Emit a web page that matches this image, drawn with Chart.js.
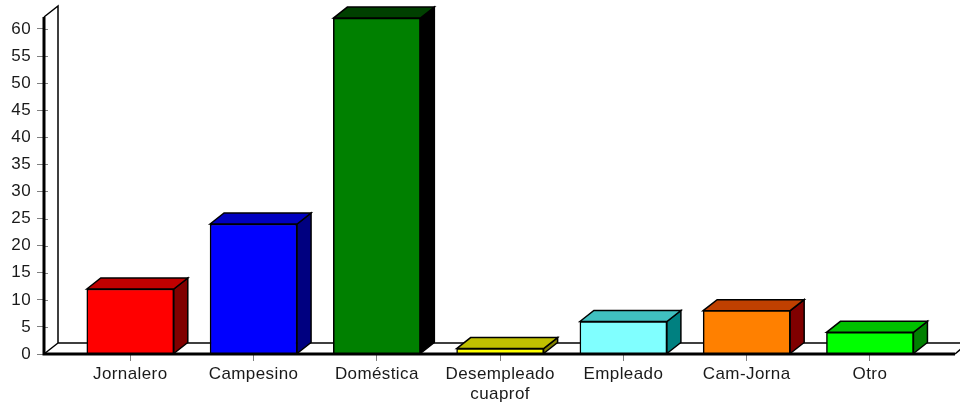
<!DOCTYPE html>
<html>
<head>
<meta charset="utf-8">
<script src="https://cdn.jsdelivr.net/npm/chart.js@4"></script>
<style>
html, body { margin: 0; background: #fff; }
canvas { display: block; }
</style>
</head>
<body>
<canvas id="chart" width="960" height="402"></canvas>
<script>
const categories = ['Jornalero', 'Campesino', 'Doméstica', ['Desempleado', 'cuaprof'], 'Empleado', 'Cam-Jorna', 'Otro'];
const values = [12, 24, 62, 1, 6, 8, 4];
const frontColors = ['#ff0000', '#0000ff', '#008000', '#ffff00', '#80ffff', '#ff8000', '#00ff00'];
const topColors = ['#c00000', '#0000c0', '#004000', '#c0c000', '#40c0c0', '#c04000', '#00c000'];
const sideColors = ['#800000', '#000080', '#000000', '#808000', '#008080', '#800000', '#008000'];

const depthX = 14;
const depthY = -11;

function poly(ctx, pts, fill) {
    ctx.beginPath();
    pts.forEach((p, i) => i ? ctx.lineTo(p[0], p[1]) : ctx.moveTo(p[0], p[1]));
    ctx.closePath();
    if (fill) {
        ctx.fillStyle = fill;
        ctx.fill();
    }
    ctx.stroke();
}

// Excel style 3D look: back wall, floor and the bar side/top faces
const fake3d = {
    id: 'fake3d',
    beforeDraw(chart) {
        // reference text is stretched wider than the font
        chart.ctx.letterSpacing = '0.4px';
    },
    beforeDatasetsDraw(chart) {
        const ctx = chart.ctx;
        const a = chart.chartArea;
        ctx.save();
        ctx.strokeStyle = '#000';
        ctx.lineWidth = 1.5;
        ctx.beginPath();
        ctx.moveTo(a.left, a.top);
        ctx.lineTo(a.left + depthX, a.top + depthY);
        ctx.lineTo(a.left + depthX, a.bottom + depthY);
        ctx.lineTo(a.left, a.bottom);
        ctx.moveTo(a.left + depthX, a.bottom + depthY);
        ctx.lineTo(chart.width, a.bottom + depthY);
        ctx.moveTo(a.right, a.bottom);
        ctx.lineTo(a.right + 6, a.bottom - 5);
        ctx.stroke();

        chart.getDatasetMeta(0).data.forEach((bar, i) => {
            const l = bar.x - bar.width / 2;
            const r = bar.x + bar.width / 2;
            poly(ctx, [[r, bar.y], [r + depthX, bar.y + depthY], [r + depthX, bar.base + depthY], [r, bar.base]], sideColors[i]);
            poly(ctx, [[l, bar.y], [l + depthX, bar.y + depthY], [r + depthX, bar.y + depthY], [r, bar.y]], topColors[i]);
        });

        // tick marks also poke a little into the wall
        ctx.strokeStyle = '#808080';
        ctx.lineWidth = 1;
        ctx.beginPath();
        chart.scales.y.ticks.forEach(t => {
            const y = Math.round(chart.scales.y.getPixelForValue(t.value)) + 0.5;
            ctx.moveTo(a.left, y);
            ctx.lineTo(a.left + 4, y);
        });
        ctx.stroke();
        ctx.restore();
    },
    afterDatasetsDraw(chart) {
        const ctx = chart.ctx;
        const a = chart.chartArea;
        ctx.save();
        ctx.strokeStyle = '#000';
        ctx.lineWidth = 3;
        ctx.beginPath();
        ctx.moveTo(a.left, a.top);
        ctx.lineTo(a.left, a.bottom);
        ctx.lineTo(a.right, a.bottom);
        ctx.stroke();
        ctx.restore();
    }
};

new Chart(document.getElementById('chart').getContext('2d'), {
    type: 'bar',
    data: {
        datasets: [{
            data: values.map((v, i) => ({ x: i, y: v })),
            backgroundColor: frontColors,
            borderColor: '#000',
            borderWidth: 1.5,
            barThickness: 87
        }]
    },
    plugins: [fake3d],
    options: {
        responsive: false,
        animation: false,
        layout: { padding: { top: 17, right: 5, left: 0, bottom: 0 } },
        plugins: { legend: { display: false }, tooltip: { enabled: false } },
        scales: {
            x: {
                type: 'linear',
                offset: false,
                min: -0.70,
                max: 6.69,
                afterBuildTicks(scale) {
                    scale.ticks = categories.map((c, i) => ({ value: i }));
                },
                afterFit(scale) { scale.height = 48; },
                grid: { offset: false, drawOnChartArea: false, color: '#808080', tickLength: 7 },
                border: { display: false },
                ticks: {
                    autoSkip: false,
                    maxRotation: 0,
                    padding: 3,
                    color: '#1a1a1a',
                    font: { family: 'Liberation Sans', size: 17, lineHeight: 1.2 },
                    callback: v => categories[v]
                }
            },
            y: {
                min: 0,
                max: 62.2,
                afterFit(scale) { scale.width = 44; },
                grid: { drawOnChartArea: false, color: '#808080', tickLength: 7 },
                border: { display: false },
                ticks: {
                    stepSize: 5,
                    includeBounds: false,
                    padding: 6,
                    color: '#1a1a1a',
                    font: { family: 'Liberation Sans', size: 17 }
                }
            }
        }
    }
});
</script>
</body>
</html>
